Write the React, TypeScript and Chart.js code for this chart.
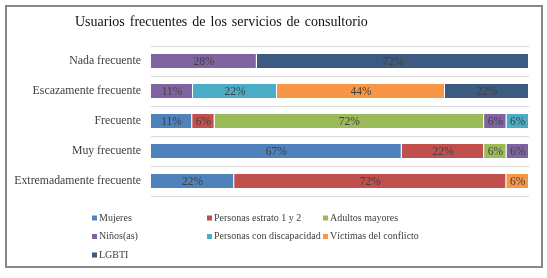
import React, { useEffect, useRef } from "react";
import { Chart, registerables } from "chart.js";

Chart.register(...registerables);

const titleText = "Usuarios frecuentes de los servicios de consultorio";
const categories = [
  "Nada frecuente",
  "Escazamente frecuente",
  "Frecuente",
  "Muy frecuente",
  "Extremadamente frecuente",
];
const seriesNames = [
  "Mujeres",
  "Personas estrato 1 y 2",
  "Adultos mayores",
  "Niños(as)",
  "Personas con discapacidad",
  "Víctimas del conflicto",
  "LGBTI",
];
const mujeres = [0, 0, 11, 67, 22];
const estrato = [0, 0, 6, 22, 72];
const adultos = [0, 0, 72, 6, 0];
const ninos = [28, 11, 6, 6, 0];
const discapacidad = [0, 22, 6, 0, 0];
const victimas = [0, 44, 0, 0, 6];
const lgbti = [72, 22, 0, 0, 0];
const seriesColors = ["#4F81BD", "#C0504D", "#9BBB59", "#8064A2", "#4BACC6", "#F79646", "#3D5A80"];

const FONT = "'Liberation Serif', serif";
const TEXT = "#404040";

const allSeries = [mujeres, estrato, adultos, ninos, discapacidad, victimas, lgbti];
const totals = categories.map((_, i) => allSeries.reduce((s, a) => s + a[i], 0));

const titlePlugin = {
  id: "customTitle",
  afterDraw(chart: any) {
    const ctx = chart.ctx;
    ctx.save();
    ctx.font = `14px ${FONT}`;
    ctx.fillStyle = "#111111";
    ctx.textAlign = "left";
    ctx.textBaseline = "middle";
    try {
      (ctx as any).wordSpacing = "1.5px";
    } catch (e) {}
    ctx.fillText(titleText, 75, 22);
    ctx.restore();
  },
};

const labelPlugin = {
  id: "barLabels",
  afterDatasetsDraw(chart: any) {
    const ctx = chart.ctx;
    ctx.save();
    ctx.font = `11.5px ${FONT}`;
    ctx.fillStyle = TEXT;
    ctx.textAlign = "center";
    ctx.textBaseline = "middle";
    chart.data.datasets.forEach((ds: any, di: number) => {
      const meta = chart.getDatasetMeta(di);
      meta.data.forEach((bar: any, i: number) => {
        const raw = allSeries[di][i];
        if (!raw) return;
        const cx = (bar.x + bar.base) / 2;
        ctx.fillText(`${raw}%`, cx, bar.y + 1);
      });
    });
    ctx.restore();
  },
};

const legendPlugin = {
  id: "gridLegend",
  afterDraw(chart: any) {
    const ctx = chart.ctx;
    ctx.save();
    ctx.font = `10px ${FONT}`;
    ctx.textBaseline = "middle";
    ctx.textAlign = "left";
    const cols = [92, 207, 323];
    const rows = [218, 236.5, 255];
    let prevEnd = 0;
    seriesNames.forEach((name, i) => {
      const c = i % 3;
      const r = Math.floor(i / 3);
      if (c === 0) prevEnd = 0;
      const x = Math.max(cols[c], prevEnd + 1);
      const y = rows[r];
      ctx.fillStyle = seriesColors[i];
      ctx.fillRect(x, y - 2.5, 5, 5);
      ctx.fillStyle = TEXT;
      ctx.fillText(name, x + 7, y);
      prevEnd = x + 7 + ctx.measureText(name).width;
    });
    ctx.restore();
  },
};

export default function App() {
  const ref = useRef<HTMLCanvasElement | null>(null);

  useEffect(() => {
    document.body.style.margin = "0";
    const canvas = ref.current;
    if (!canvas) return;
    const chart = new Chart(canvas, {
      type: "bar",
      data: {
        labels: categories,
        datasets: allSeries.map((arr, di) => ({
          label: seriesNames[di],
          data: arr.map((v, i) => (v ? (v / totals[i]) * 100 : null)),
          backgroundColor: seriesColors[di],
          borderColor: "rgba(255,255,255,0.5)",
          borderWidth: 1,
          categoryPercentage: 0.54,
          barPercentage: 1,
        })),
      },
      options: {
        indexAxis: "y",
        responsive: false,
        animation: false,
        layout: { padding: { left: 0, top: 46, right: 18, bottom: 82 } },
        plugins: {
          legend: { display: false },
          title: { display: false },
          tooltip: { enabled: false },
        },
        scales: {
          x: {
            stacked: true,
            min: 0,
            max: 100,
            display: false,
          },
          y: {
            stacked: true,
            grid: { color: "#D9D9D9", offset: true, drawTicks: false, lineWidth: 1 },
            border: { display: false },
            ticks: { color: TEXT, font: { family: FONT, size: 11.8 }, padding: 10 },
            afterFit: (scale: any) => {
              scale.width = 151;
            },
          },
        },
      } as any,
      plugins: [labelPlugin, titlePlugin, legendPlugin],
    });
    return () => chart.destroy();
  }, []);

  return (
    <div style={{ position: "fixed", left: 0, top: 0, width: 547, height: 278, background: "#fff" }}>
      <div
        style={{
          position: "absolute",
          left: 5,
          top: 5,
          width: 538,
          height: 263,
          boxSizing: "border-box",
          border: "2px solid #878787",
        }}
      />
      <canvas ref={ref} width={547} height={278} style={{ position: "absolute", left: 0, top: 0 }} />
    </div>
  );
}
